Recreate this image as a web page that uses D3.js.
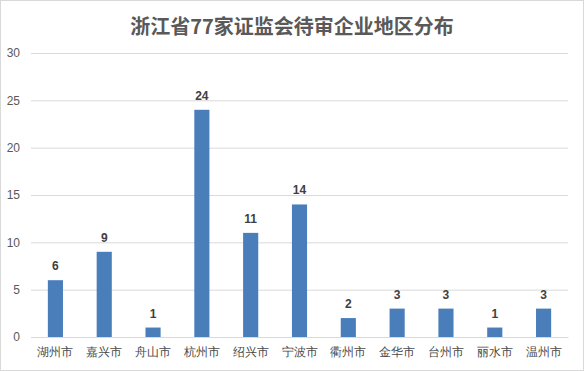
<!DOCTYPE html>
<html>
<head>
<meta charset="utf-8">
<script src="https://cdn.jsdelivr.net/npm/d3@7"></script>
<style>
  body { margin: 0; background: #fff; }
  svg { display: block; font-family: "Noto Sans CJK SC", "Microsoft YaHei", sans-serif; }
</style>
</head>
<body>
<div id="myChart"></div>
<script>
var cities = ['湖州市', '嘉兴市', '舟山市', '杭州市', '绍兴市', '宁波市', '衢州市', '金华市', '台州市', '丽水市', '温州市'];
var counts = [6, 9, 1, 24, 11, 14, 2, 3, 3, 1, 3];
var yTicks = [0, 5, 10, 15, 20, 25, 30];
var title = '浙江省77家证监会待审企业地区分布';

var W = 584, H = 371;
var margin = {top: 53, right: 16, bottom: 34, left: 31};
var width = W - margin.left - margin.right,
    height = H - margin.top - margin.bottom;

var root = d3.select("#myChart")
  .append("svg")
  .attr("width", W)
  .attr("height", H);

// outer frame
root.append("rect")
  .attr("x", 0.5).attr("y", 0.5)
  .attr("width", W - 1).attr("height", H - 1)
  .attr("fill", "#fff")
  .attr("stroke", "#d9d9d9");

root.append("text")
  .attr("x", W / 2)
  .attr("y", 34)
  .attr("text-anchor", "middle")
  .style("font-size", "20px")
  .style("font-weight", "bold")
  .style("fill", "#595959")
  .text(title);

var svg = root.append("g")
  .attr("transform", "translate(" + margin.left + "," + margin.top + ")");

var x = d3.scaleBand()
  .range([0, width])
  .domain(cities)
  .paddingInner(0.69)
  .paddingOuter(0.345);

var y = d3.scaleLinear()
  .domain([0, 30])
  .range([height, 0]);

// gridlines + y labels
var yAxis = svg.append("g")
  .call(d3.axisLeft(y).tickValues(yTicks).tickSize(-width).tickPadding(11));
yAxis.select(".domain").remove();
yAxis.selectAll(".tick line").attr("stroke", "#d9d9d9");
yAxis.selectAll(".tick text")
  .style("font-size", "12px")
  .style("fill", "#595959")
  .style("font-family", "'Liberation Sans', Arial, sans-serif");

// bars
svg.selectAll("rect.bar")
  .data(counts)
  .enter()
  .append("rect")
  .attr("class", "bar")
  .attr("x", function(d, i) { return x(cities[i]); })
  .attr("y", function(d) { return y(d); })
  .attr("width", x.bandwidth())
  .attr("height", function(d) { return height - y(d); })
  .attr("fill", "#4a7ebb");

// x axis
var xAxis = svg.append("g")
  .attr("transform", "translate(0," + height + ")")
  .call(d3.axisBottom(x).tickSize(0).tickPadding(10));
xAxis.select(".domain").attr("stroke", "#d9d9d9");
xAxis.selectAll(".tick text")
  .style("font-size", "12px")
  .style("fill", "#4a4a4a");

// value labels
svg.selectAll("text.val")
  .data(counts)
  .enter()
  .append("text")
  .attr("class", "val")
  .attr("text-anchor", "middle")
  .attr("x", function(d, i) { return x(cities[i]) + x.bandwidth() / 2; })
  .attr("y", function(d) { return y(d) - 10; })
  .text(function(d) { return d; })
  .style("fill", "#404040")
  .style("font-size", "12px")
  .style("font-weight", "bold")
  .style("font-family", "'Liberation Sans', Arial, sans-serif");
</script>
</body>
</html>
